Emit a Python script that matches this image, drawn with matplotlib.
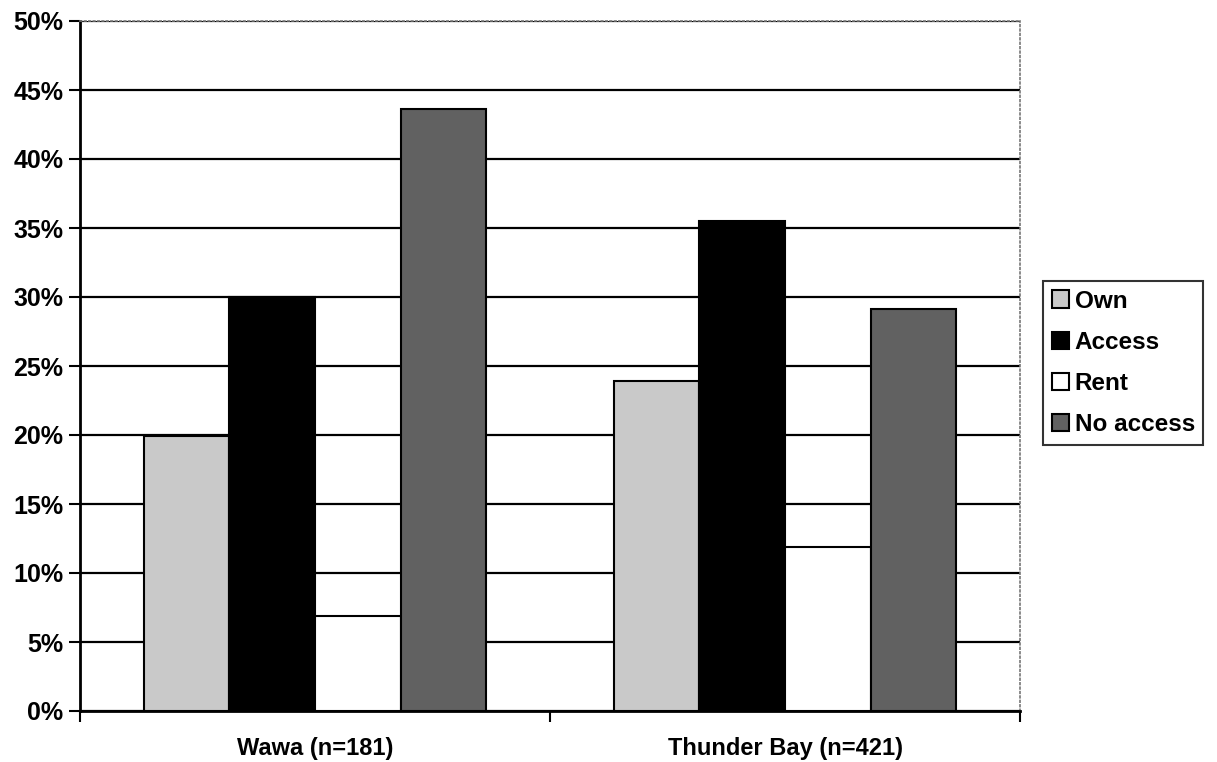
import numpy as np
import matplotlib.pyplot as plt

# dados do gráfico
locais = ['Wawa (n=181)', 'Thunder Bay (n=421)']
series = ['Own', 'Access', 'Rent', 'No access']
own = [19.9, 23.9]
access = [30.0, 35.5]
rent = [6.9, 11.9]
no_access = [43.6, 29.1]
cores = ['#c9c9c9', '#000000', '#ffffff', '#616161']

plt.rcParams['font.family'] = ['Liberation Sans', 'DejaVu Sans']
plt.rcParams['font.weight'] = 'bold'

fig = plt.figure(figsize=(12.17, 7.62), dpi=100)
ax = fig.add_axes([80 / 1217, 1 - 711 / 762, 940 / 1217, 690 / 762])

x = np.arange(len(locais)) + 0.5
w = 0.182
valores = [own, access, rent, no_access]
for i, (nome, v, c) in enumerate(zip(series, valores, cores)):
    ax.bar(x + (i - 1.5) * w, v, w, color=c, edgecolor='black',
           linewidth=1.5, label=nome, zorder=3)

# eixos
ax.set_xlim(0, 2)
ax.set_ylim(0, 50)
ax.set_yticks(np.arange(0, 51, 5))
ax.set_yticklabels([f'{t}%' for t in range(0, 51, 5)], fontsize=18, fontweight='bold')
ax.set_xticks([0, 1, 2])
ax.set_xticklabels([])
ax.set_xticks(x, minor=True)
ax.set_xticklabels(locais, minor=True, fontsize=17, fontweight='bold')
ax.tick_params(axis='x', which='minor', length=0, pad=19)
ax.tick_params(axis='x', which='major', length=8, width=1.5, direction='out')
ax.tick_params(axis='y', length=8, width=1.5, direction='out', pad=4)

ax.yaxis.grid(True, color='black', linewidth=1.6, zorder=0)
ax.set_axisbelow(True)
for s in ['left', 'bottom']:
    ax.spines[s].set_linewidth(2)
for s in ['top', 'right']:
    ax.spines[s].set_linestyle(':')
    ax.spines[s].set_color('#777777')
    ax.spines[s].set_linewidth(1.2)

leg = fig.legend(loc='upper left', bbox_to_anchor=(1043 / 1217, 1 - 281 / 762),
                 fontsize=17.5, frameon=True, fancybox=False, handlelength=0.7,
                 handleheight=0.7, handletextpad=0.25, labelspacing=0.75,
                 borderpad=0.35, borderaxespad=0)
leg.get_frame().set_edgecolor('black')
leg.get_frame().set_linewidth(1.5)
for t in leg.get_texts():
    t.set_fontweight('bold')

fig.savefig('out.png', dpi=100)
